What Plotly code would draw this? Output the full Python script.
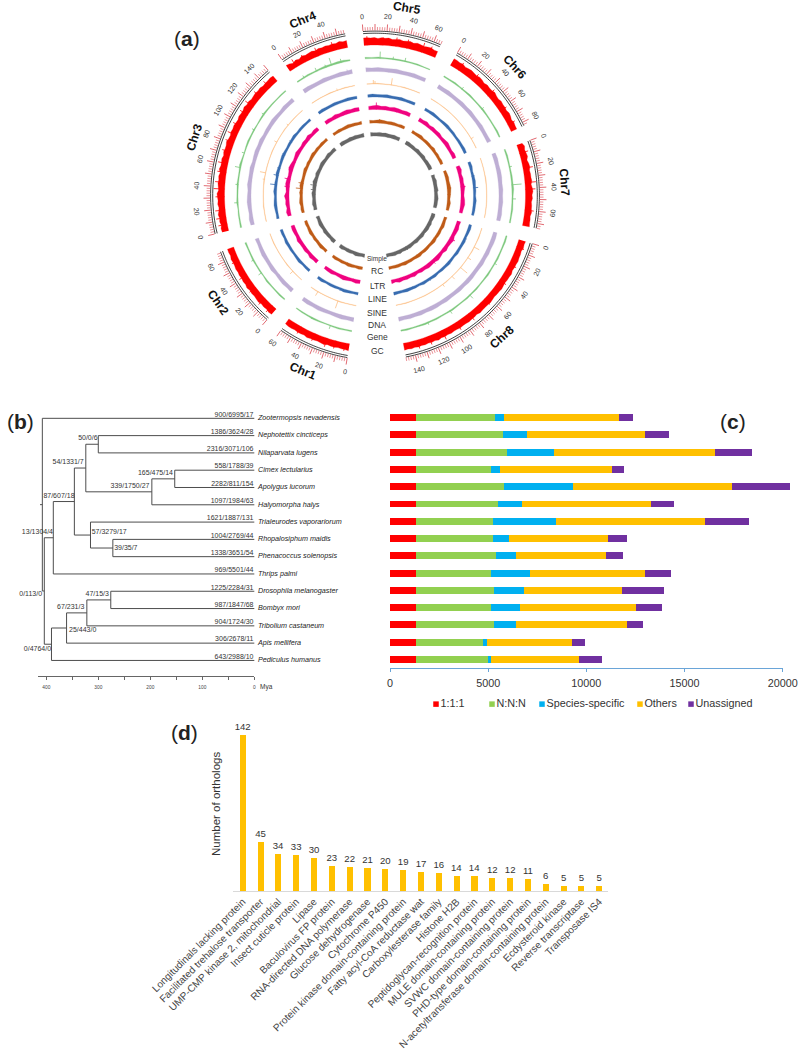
import math
import plotly.graph_objects as go

W, H = 800, 1053
FONT = "Liberation Sans"

# ---------- panel (a) data ----------
chr_names = ["Chr1", "Chr2", "Chr3", "Chr4", "Chr5", "Chr6", "Chr7", "Chr8"]
chr_lengths_mb = [60, 69, 150, 57, 66, 83, 74, 148]
chr_start_deg = [189.7, 221, 256.5, 325.6, -4.2, 30, 70.4, 107]
DEG_PER_MB = 0.42

gc_values = [
 [14,13,13,12,13,13,12,14,13,12,13,13,14,12,13,13,12,13,13,12],
 [14,15,13,14,13,15,14,13,14,13,15,13,14,13,14,13,14,13,13,14,12,13,13],
 [13,14,12,14,13,15,13,12,14,13,14,15,12,13,14,13,14,12,15,13,13,14,12,14,13,13,15,13,12,14,13,14,13,12,14,13,13,15,13,14,12,13,14,13,14,12,13,13,14,13],
 [14,13,10,13,11,14,12,13,14,12,14,13,14,13,14,13,15,13,14],
 [15,15,14,15,13,15,14,15,13,14,15,13,14,15,13,15,14,13,14,15,13,13],
 [15,15,14,15,13,14,15,14,13,15,14,12,14,13,13,15,13,12,14,13,13,12,14,13,11,13,12,12],
 [11,14,12,13,14,11,13,14,12,13,13,14,12,14,15,13,14,12,13,13,14,12,13,13,14],
 [14,13,14,12,13,13,14,13,13,12,14,13,13,12,13,14,13,13,12,13,14,13,13,13,14,12,13,13,14,13,13,14,13,13,14,13,14,13,15,13,14,13,14,13,14,13,14,13,14],
]
gene_values = [
 [3,3,4,3,2,3,4,3,3,2],
 [3,4,3,3,4,2,3,3,4,3,3,4],
 [4,3,3,2,4,3,3,4,3,3,5,3,2,3,4,3,3,2,3,4,3,3,2,3,3],
 [3,3,4,3,4,5,4,5,5,3],
 [4,3,4,3,3,3,3,3,3,2,2],
 [3,3,4,3,3,4,3,3,4,3,3,3,4,3],
 [3,4,3,3,4,4,5,3,3,4,3,3],
 [3,4,3,3,4,3,3,4,3,3,4,3,4,3,3,4,3,3,4,3,4,3,3,4,3],
]
dna_values = [
 [9,8,9,8,7,8,9,8,9,8],
 [9,8,9,8,7,9,8,8,9,8,7,8],
 [8,9,7,8,9,8,7,9,8,8,9,7,8,9,8,9,7,8,8,9,8,7,9,8,9],
 [9,9,8,8,9,8,8,9,8,9],
 [9,8,9,8,8,9,8,8,9,8,8],
 [9,8,9,8,8,9,8,9,8,8,9,8,8,9],
 [8,9,8,9,9,8,9,8,9,8,9,8],
 [8,9,9,8,9,8,9,8,8,9,9,8,9,8,8,9,8,9,9,8,9,8,9,8,9],
]
sine_values = [
 [2,2,2,3,2,2,2,2,3,2],
 [2,2,2,2,3,2,2,2,2,3,2,2],
 [2,2,2,3,2,2,2,2,3,2,2,2,2,2,3,2,2,2,2,3,2,2,2,2,2],
 [2,2,2,2,3,2,2,3,2,2],
 [2,2,3,2,2,2,2,3,2,2,2],
 [2,2,2,2,2,2,2,2,2,2,2,2,2,2],
 [2,2,2,2,3,2,2,2,2,2,2,2],
 [2,2,3,2,2,3,2,2,2,3,2,2,2,3,2,2,2,2,3,2,2,2,3,2,2],
]
line_values = [
 [6,5,6,7,5,6,6,5,7,6],
 [6,6,5,7,6,5,6,6,7,5,6,6],
 [6,5,6,7,6,5,7,6,6,5,7,6,5,6,7,6,5,6,6,7,5,6,6,5,6],
 [6,7,6,6,7,6,6,7,6,6],
 [6,7,6,6,7,6,6,7,6,6,6],
 [6,6,7,6,5,6,7,6,6,5,6,6,7,6],
 [6,7,5,6,7,6,6,5,7,6,6,5],
 [6,7,6,5,7,6,6,7,5,6,7,6,6,5,7,6,6,7,5,6,6,7,6,6,7],
]
ltr_values = [
 [8,9,7,8,10,8,7,9,8,7],
 [9,8,10,7,9,8,8,10,7,8,9,8],
 [8,10,7,9,8,11,7,8,10,9,7,8,11,9,7,8,10,8,7,9,8,10,7,9,8],
 [8,9,8,10,8,9,10,8,9,8],
 [8,9,10,8,9,8,10,9,8,9,8],
 [9,8,10,7,9,8,9,7,8,10,8,7,9,8],
 [8,10,7,9,8,10,8,7,9,10,8,7],
 [9,8,10,9,8,11,9,8,10,7,9,11,8,9,10,8,9,7,10,8,9,8,10,7,9],
]
rc_values = [
 [6,7,6,7,8,6,7,6,7,6],
 [7,6,8,7,6,7,6,8,7,6,7,6],
 [6,7,6,8,7,6,7,6,8,7,6,6,7,8,6,7,6,7,8,6,7,6,7,6,7],
 [6,6,7,6,7,8,7,7,6,7],
 [7,6,7,8,7,6,7,7,6,7,6],
 [7,6,7,8,6,7,7,6,8,6,7,6,7,6],
 [6,7,8,7,8,9,8,7,6,8,7,6],
 [7,6,7,8,6,7,7,6,8,7,6,7,7,6,8,7,6,7,7,8,6,7,7,6,7],
]
simple_values = [
 [8,7,8,9,7,8,8,7,9,8],
 [8,9,7,8,8,9,7,8,9,8,7,8],
 [8,7,9,8,7,8,9,7,8,8,10,8,7,9,8,7,8,9,8,7,8,9,7,8,8],
 [8,9,8,8,9,8,9,8,8,9],
 [9,8,8,9,8,9,8,8,9,8,8],
 [8,9,8,8,7,9,8,8,9,7,8,8,9,8],
 [8,7,9,8,8,9,7,8,9,8,8,7],
 [8,9,8,7,9,8,9,8,7,9,8,8,9,7,8,9,8,8,7,9,8,9,8,7,8],
]

# spikes: (chromosome index, position in Mb, height in px)
gc_spikes = [(0,4,8),(0,13,8),(0,21,9),(0,33,8),(0,47,8),(1,5,9),(1,14,9),(1,27,8),(1,41,9),(1,56,8),
             (2,6,9),(2,12,10),(2,19,10),(2,31,9),(2,38,11),(2,44,10),(2,53,9),(2,61,10),(2,72,9),(2,81,9),
             (2,88,10),(2,97,9),(2,109,9),(2,118,10),(2,129,9),(2,141,9),(3,7,9),(3,16,8),(3,29,9),(3,44,9),
             (4,3,9),(4,17,8),(4,29,9),(4,39,9),(4,53,10),(4,60,9),(5,9,9),(5,25,9),(5,44,9),(5,62,8),(5,76,8),
             (6,8,9),(6,22,10),(6,35,11),(6,41,10),(6,60,9),(7,7,8),(7,24,8),(7,41,8),(7,63,8),(7,82,9),
             (7,96,9),(7,111,10),(7,124,9),(7,135,9)]
gene_spikes = [(3,38,8),(3,22,4),(3,48,4),(3,8,3),(3,32,3),(4,15,7),(4,40,4),(4,28,3),(2,60,6),(2,25,4),(2,100,3),
               (2,43,3),(2,75,3),(2,118,3),(5,22,3),(5,50,3),(6,36,10),(6,50,4),(6,18,3),
               (7,70,5),(7,95,4),(7,30,3),(7,120,3),(1,35,4),(1,50,3),(0,22,4),(0,42,2)]
dna_spikes = [(3,52,5),(2,110,3),(2,48,3),(2,85,3),(7,60,3),(7,110,3),(1,22,2),(0,15,2),(4,25,2)]
sine_spikes = [(4,8,4),(4,10,3),(4,30,7),(0,23,8),(0,50,5),(1,15,4),(7,55,9),(7,25,6),(7,40,4),(7,70,4),(7,85,3),
               (2,100,3),(2,60,6),(2,52,2),(3,35,2),(5,70,3),(2,125,2)]
line_spikes = [(2,60,5),(2,47,7),(2,110,3),(2,70,3),(2,90,3),(2,130,2),(4,30,2),(4,15,2),(6,36,5),(6,20,3),(0,25,3),
               (7,20,3),(7,60,3),(7,95,3),(7,120,2),(3,50,2),(1,45,2),(5,40,2)]
ltr_spikes = [(4,12,7),(2,58,6),(2,46,5),(2,72,4),(2,86,3),(2,105,3),(2,128,3),(7,30,6),(7,75,5),(7,50,3),(7,100,3),
              (1,30,3),(1,50,3),(0,25,4),(0,12,3),(6,33,5),(6,55,3),(4,45,3),(4,25,3),(5,25,2),(3,30,2)]
rc_spikes = [(2,45,7),(2,55,5),(2,37,3),(2,80,2),(4,18,4),(4,35,2),(6,33,4),(6,45,3),(7,45,3),(7,90,2),(0,30,2),(1,25,2)]
simple_spikes = [(2,55,6),(2,45,5),(2,62,3),(2,35,3),(2,95,2),(7,100,4),(7,75,2),(6,36,4),(6,20,2),(0,40,2),
                 (7,50,3),(3,25,2),(4,40,2)]

track_names = ["GC", "Gene", "DNA", "SINE", "LINE", "LTR", "RC", "Simple"]
track_colors = ["#ff0000", "#7fc97f", "#beaed4", "#fdc086", "#386cb0", "#f0027f", "#bf5b17", "#666666"]
track_base_r = [150.5, 137, 124, 111.5, 98.5, 86, 72.5, 59.5]
track_scale = [0.5, 0.38, 0.45, 0.25, 0.42, 0.42, 0.42, 0.42]
track_label_y = [351, 337, 325, 313, 299, 286, 271, 259]

# ---------- panel (b) data ----------
species = ["Zootermopsis nevadensis", "Nephotettix cincticeps", "Nilaparvata lugens", "Cimex lectularius",
           "Apolygus lucorum", "Halyomorpha halys", "Trialeurodes vaporariorum", "Rhopalosiphum maidis",
           "Phenacoccus solenopsis", "Thrips palmi", "Drosophila melanogaster", "Bombyx mori",
           "Tribolium castaneum", "Apis mellifera", "Pediculus humanus"]
tip_counts = ["900/6995/17", "1386/3624/28", "2316/3071/106", "558/1788/39", "2282/811/154", "1097/1984/63",
              "1621/1887/131", "1004/2769/44", "1338/3651/54", "969/5501/44", "1225/2284/31", "987/1847/68",
              "904/1724/30", "306/2678/11", "643/2988/10"]
node_age = {"root": 407.6, "pan": 403.8, "P": 386.5, "Q": 346, "S": 324, "N": 300, "H": 197, "C": 153, "T": 315,
            "U": 272, "V": 390, "W": 361, "X": 322, "Y": 276}
node_children = {"root": [0, "pan"], "pan": ["P", "V"], "P": ["Q", 9], "Q": ["S", "T"], "S": ["N", "H"], "N": [1, 2],
                 "H": ["C", 5], "C": [3, 4], "T": [6, "U"], "U": [7, 8], "V": ["W", 14], "W": ["X", 13],
                 "X": ["Y", 12], "Y": [10, 11]}
stem_age = 412
node_labels = ["50/0/6", "54/1331/7", "165/475/14", "339/1750/27", "87/607/18", "57/3279/17", "39/35/7", "13/1304/4",
               "0/113/0", "47/15/3", "67/231/3", "25/443/0", "0/4764/0"]
node_label_age = [320, 358, 190, 239, 375.6, 279, 247, 417, 430, 302, 353, 330, 417]
node_label_row = [1.17, 2.56, 3.19, 3.92, 4.48, 6.6, 7.5, 6.58, 10.15, 10.15, 10.9, 12.27, 13.33]

# ---------- panel (c) data ----------
group_names = ["1:1:1", "N:N:N", "Species-specific", "Others", "Unassigned"]
group_colors = ["#ff0000", "#92d050", "#00b0f0", "#ffc000", "#7030a0"]
one_to_one = [1324] * 15
n_n_n = [4025, 4449, 4619, 3821, 4483, 4178, 3906, 3906, 4076, 3821, 3991, 3821, 3991, 3413, 3685]
specific = [458, 1206, 2411, 475, 3498, 1205, 3243, 849, 1001, 1987, 1528, 1494, 1086, 221, 153]
others = [5875, 6011, 8218, 5672, 8133, 6588, 7556, 5026, 4602, 5858, 4992, 5875, 5655, 4313, 4448]
unassigned = [679, 1239, 1851, 645, 2955, 1172, 2275, 951, 866, 1324, 2123, 1342, 832, 645, 1172]
legend_x = [2343, 5195, 7741, 12732, 15330]

# ---------- panel (d) data ----------
ortholog_names = ["Longitudinals lacking protein", "Facilitated trehalose transporter", "UMP-CMP kinase 2, mitochondrial",
                  "Insect cuticle protein", "Lipase", "Baculovirus FP protein", "RNA-directed DNA polymerase",
                  "Glucose dehydrogenase", "Cytochrome P450", "Protein kinase domain-containing protein",
                  "Fatty acyl-CoA reductase wat", "Carboxylesterase family", "Histone H2B",
                  "Peptidoglycan-recognition protein", "MULE domain-containing protein", "SVWC domain-containing protein",
                  "PHD-type domain-containing protein", "N-acetyltransferase domain-containing protein",
                  "Ecdysteroid kinase", "Reverse transcriptase", "Transposase IS4"]
ortholog_counts = [142, 45, 34, 33, 30, 23, 22, 21, 20, 19, 17, 16, 14, 14, 12, 12, 11, 6, 5, 5, 5]


def xp(x):
    return x / W


def yp(y):
    return 1 - y / H


fig = go.Figure()
annotations = []


def note(x, y, text, size, color="#222222", angle=0, xanchor="center"):
    annotations.append(dict(x=xp(x), y=yp(y), xref="paper", yref="paper", text=text, showarrow=False, textangle=angle,
                            font=dict(family=FONT, size=size, color=color), xanchor=xanchor, yanchor="middle",
                            borderpad=0, borderwidth=0))


# ---------- (a) circos ----------
CX, CY, R_MAX = 375, 195.5, 175
track_values = [gc_values, gene_values, dna_values, sine_values, line_values, ltr_values, rc_values, simple_values]
track_spikes = [gc_spikes, gene_spikes, dna_spikes, sine_spikes, line_spikes, ltr_spikes, rc_spikes, simple_spikes]


def chr_theta(c, mb):
    return chr_start_deg[c] + mb * DEG_PER_MB


for name, color, base, scale, values, spikes in zip(track_names, track_colors, track_base_r, track_scale, track_values,
                                                     track_spikes):
    th, rr = [], []
    for c, vals in enumerate(values):
        n = len(vals)
        thetas = [chr_theta(c, chr_lengths_mb[c] * i / (n - 1)) for i in range(n)]
        th += thetas + thetas[::-1] + [None]
        rr += [base + v * scale for v in vals] + [base] * n + [None]
    fig.add_trace(go.Scatterpolar(theta=th, r=rr, mode="lines", fill="toself", fillcolor=color, name=name,
                                  line=dict(color=color, width=0.3), showlegend=False, subplot="polar",
                                  hoverinfo="skip"))
    th, rr = [], []
    for c, mb, h in spikes:
        t = chr_theta(c, mb)
        th += [t, t, None]
        rr += [base, base + h, None]
    fig.add_trace(go.Scatterpolar(theta=th, r=rr, mode="lines", line=dict(color=color, width=0.8),
                                  showlegend=False, subplot="polar", hoverinfo="skip"))

ring_th, ring_r_in, ring_r_out, minor_th, minor_r, major_th, major_r = [], [], [], [], [], [], []
for c, length in enumerate(chr_lengths_mb):
    marks = list(range(0, length + 1, 2))
    pts = [chr_theta(c, length * i / 40) for i in range(41)]
    ring_th += pts + [None]
    ring_r_in += [162.3] * 41 + [None]
    ring_r_out += [164.4] * 41 + [None]
    for m in marks:
        t = chr_theta(c, m)
        if m % 10 == 0:
            major_th += [t, t, None]
            major_r += [165, 171.5, None]
        else:
            minor_th += [t, t, None]
            minor_r += [165, 168.5, None]
    for m in range(0, length + 1, 20):
        t = chr_theta(c, m)
        a = math.radians(t)
        ang = t - 180 if 90 < (t % 360) < 270 else t
        ang = (ang + 180) % 360 - 180
        note(CX + 179 * math.sin(a), CY - 179 * math.cos(a), str(m), 7, "#333333", ang)
    t = chr_theta(c, length / 2)
    a = math.radians(t)
    ang = t - 180 if 90 < (t % 360) < 270 else t
    ang = (ang + 180) % 360 - 180
    note(CX + 190 * math.sin(a), CY - 190 * math.cos(a), "<b>%s</b>" % chr_names[c], 12, "#111111", ang)

fig.add_trace(go.Scatterpolar(theta=ring_th, r=ring_r_in, mode="lines", line=dict(color="#111111", width=0.8),
                              showlegend=False, subplot="polar", hoverinfo="skip"))
fig.add_trace(go.Scatterpolar(theta=ring_th, r=ring_r_out, mode="lines", line=dict(color="#111111", width=0.8),
                              showlegend=False, subplot="polar", hoverinfo="skip"))
fig.add_trace(go.Scatterpolar(theta=minor_th, r=minor_r, mode="lines", line=dict(color="#e2636b", width=0.7),
                              showlegend=False, subplot="polar", hoverinfo="skip"))
fig.add_trace(go.Scatterpolar(theta=major_th, r=major_r, mode="lines", line=dict(color="#d9434d", width=0.8),
                              showlegend=False, subplot="polar", hoverinfo="skip"))

for name, y in zip(track_names, track_label_y):
    note(377, y, name, 6.5 if name == "Simple" else 8.5, "#333333")

# ---------- (b) tree ----------
row_of = {}


def layout_node(n):
    if isinstance(n, int):
        row_of[n] = n
        return n
    rows = [layout_node(ch) for ch in node_children[n]]
    row_of[n] = sum(rows) / 2
    return row_of[n]


layout_node("root")
tx, ty = [stem_age, node_age["root"], None], [row_of["root"], row_of["root"], None]
for n, kids in node_children.items():
    a = node_age[n]
    tx += [a, a, None]
    ty += [row_of[kids[0]], row_of[kids[1]], None]
    for k in kids:
        end = 0 if isinstance(k, int) else node_age[k]
        tx += [a, end, None]
        ty += [row_of[k], row_of[k], None]
fig.add_trace(go.Scatter(x=tx, y=ty, mode="lines", line=dict(color="#4d4d4d", width=1), showlegend=False,
                         xaxis="x", yaxis="y", hoverinfo="skip"))
rows = list(range(len(species)))
fig.add_trace(go.Scatter(x=[1.5] * 15, y=rows, mode="text", text=tip_counts, textposition="top left",
                         textfont=dict(family=FONT, size=7, color="#333333"), showlegend=False, xaxis="x", yaxis="y",
                         cliponaxis=False, hoverinfo="skip"))
fig.add_trace(go.Scatter(x=[-7] * 15, y=rows, mode="text", text=["<i>%s</i>" % s for s in species],
                         textposition="middle right", textfont=dict(family=FONT, size=7.2, color="#222222"),
                         showlegend=False, xaxis="x", yaxis="y", cliponaxis=False, hoverinfo="skip"))
fig.add_trace(go.Scatter(x=node_label_age, y=node_label_row, mode="text", text=node_labels, textposition="middle center",
                         textfont=dict(family=FONT, size=7, color="#333333"), showlegend=False, xaxis="x", yaxis="y",
                         cliponaxis=False, hoverinfo="skip"))
fig.add_trace(go.Scatter(x=[0, 416], y=[0, 0], mode="none", showlegend=False, xaxis="x4", yaxis="y4", hoverinfo="skip"))
note(266, 687, "Mya", 6.5, "#333333")

# ---------- (c) stacked bars ----------
for name, color, vals in zip(group_names, group_colors, [one_to_one, n_n_n, specific, others, unassigned]):
    fig.add_trace(go.Bar(y=rows, x=vals, orientation="h", name=name, marker=dict(color=color, line=dict(width=0)),
                         width=0.4, xaxis="x2", yaxis="y2", showlegend=False, cliponaxis=False))
for name, color, x in zip(group_names, group_colors, legend_x):
    fig.add_trace(go.Scatter(x=[x], y=[16.59], mode="markers+text", text=[name], textposition="middle right",
                             marker=dict(symbol="square", size=5.5, color=color),
                             textfont=dict(family=FONT, size=10.8, color="#333333"), showlegend=False, xaxis="x2",
                             yaxis="y2", cliponaxis=False, hoverinfo="skip"))
fig.add_trace(go.Scatter(x=[0, 20000], y=[0, 0], mode="none", showlegend=False, xaxis="x5", yaxis="y5", hoverinfo="skip"))

# ---------- (d) bars ----------
fig.add_trace(go.Bar(x=ortholog_names, y=ortholog_counts, marker=dict(color="#ffc000", line=dict(width=0)), width=0.34,
                     text=ortholog_counts, textposition="outside", textfont=dict(family=FONT, size=9.6, color="#333333"),
                     constraintext="none", cliponaxis=False, xaxis="x3", yaxis="y3", showlegend=False))
note(216, 804, "Number of orthologs", 11.5, "#333333", -90)

note(187, 38, "(<b>a</b>)", 21, "#222222")
note(20, 421, "(<b>b</b>)", 21, "#222222")
note(733, 421, "(<b>c</b>)", 21, "#222222")
note(184, 732, "(<b>d</b>)", 21, "#222222")

fig.update_layout(
    width=W, height=H, autosize=False, margin=dict(l=0, r=0, t=0, b=0, autoexpand=False), paper_bgcolor="white",
    plot_bgcolor="rgba(0,0,0,0)",
    font=dict(family=FONT, color="#333333"), barmode="stack", annotations=annotations, showlegend=False,
    polar=dict(domain=dict(x=[xp(CX - R_MAX), xp(CX + R_MAX)], y=[yp(CY + R_MAX), yp(CY - R_MAX)]),
               bgcolor="rgba(0,0,0,0)", sector=[0, 360],
               radialaxis=dict(range=[0, R_MAX], visible=False),
               angularaxis=dict(visible=False, direction="clockwise", rotation=90, thetaunit="degrees")),
    # tree and its labels: wide hidden axes at 0.52 px per Mya
    xaxis=dict(domain=[0, xp(380)], range=[489, -241.7], anchor="y", visible=False),
    yaxis=dict(domain=[yp(676), yp(405)], range=[14.9, -0.77], anchor="x", visible=False),
    # drawn time scale
    xaxis4=dict(domain=[xp(38), xp(254.3)], range=[416, 0], anchor="y4", showgrid=False, zeroline=False, showline=True,
                linecolor="#666666", linewidth=0.8, ticks="outside", ticklen=3, tickcolor="#666666", tickwidth=0.6,
                tickvals=[0, 50, 100, 150, 200, 250, 300, 350, 400], automargin=False, ticklabelstandoff=3,
                ticktext=["0", "", "100", "", "200", "", "300", "", "400"], tickfont=dict(size=4.8, color="#444444")),
    yaxis4=dict(domain=[yp(676), yp(674)], range=[0, 1], anchor="x4", visible=False),
    # stacked bars and legend keys: wide hidden axes
    xaxis2=dict(domain=[xp(390), 1], range=[0, 20881], anchor="y2", visible=False),
    yaxis2=dict(domain=[yp(720), yp(408)], range=[17.51, -0.56], anchor="x2", visible=False),
    # drawn count scale
    xaxis5=dict(domain=[xp(390), xp(782.7)], range=[0, 20000], anchor="y5", showgrid=False, zeroline=False, showline=True,
                linecolor="#6aa5d8", linewidth=1, ticks="outside", ticklen=3, tickcolor="#6aa5d8",
                tickvals=[0, 5000, 10000, 15000, 20000], ticklabelstandoff=2,
                tickformat="d", automargin=False, tickfont=dict(size=10.8, color="#333333")),
    yaxis5=dict(domain=[yp(668.3), yp(666)], range=[0, 1], anchor="x5", visible=False),
    xaxis3=dict(domain=[xp(233), xp(608)], range=[-0.544, 20.49], anchor="y3", type="category", showgrid=False,
                zeroline=False, showline=True, linecolor="#d9d9d9", linewidth=1, ticks="", tickangle=-45, automargin=False,
                tickfont=dict(size=10.1, color="#444444")),
    yaxis3=dict(domain=[yp(891), yp(720)], range=[0, 155.65], anchor="x3", showgrid=False, zeroline=False, showline=False,
                showticklabels=False, ticks="", automargin=False),
)
fig.write_html("out.html", post_script="document.body.style.margin='0';", config={"displayModeBar": False})
